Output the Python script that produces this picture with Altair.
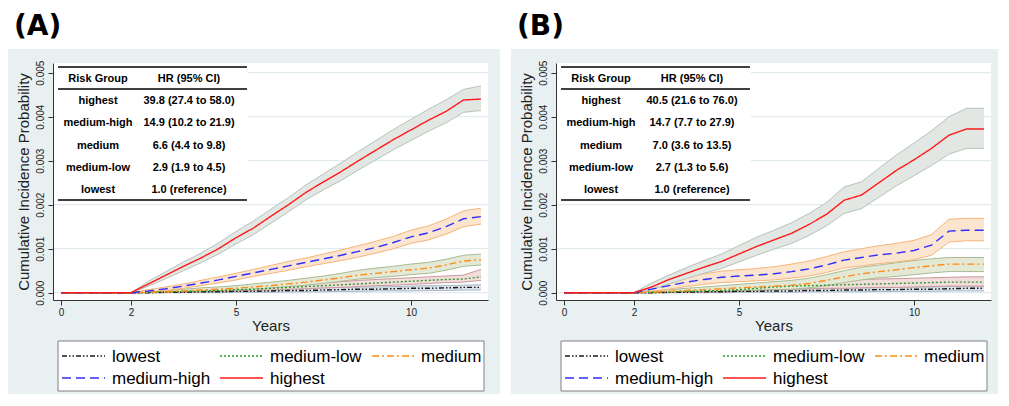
import altair as alt
import pandas as pd

# ---------------- data (values in units of 0.001) ----------------
GROUPS = ["lowest", "medium-low", "medium", "medium-high", "highest"]
TIMES = [0, 2, 2.5, 3, 3.5, 4, 4.5, 5, 5.5, 6, 6.5, 7, 7.5, 8, 8.5, 9, 9.5, 10, 10.5, 11, 11.5, 12]

A_EST = {
    "highest":     [0, 0, 0.20, 0.40, 0.60, 0.79, 1.00, 1.25, 1.47, 1.74, 2.00, 2.28, 2.52, 2.75, 3.00, 3.24, 3.48, 3.70, 3.92, 4.12, 4.38, 4.40],
    "medium-high": [0, 0, 0.04, 0.09, 0.15, 0.22, 0.29, 0.37, 0.45, 0.53, 0.61, 0.69, 0.77, 0.85, 0.94, 1.03, 1.14, 1.27, 1.36, 1.50, 1.68, 1.73],
    "medium":      [0, 0, 0.01, 0.02, 0.04, 0.06, 0.08, 0.10, 0.13, 0.16, 0.20, 0.24, 0.29, 0.34, 0.40, 0.44, 0.48, 0.52, 0.56, 0.63, 0.72, 0.75],
    "medium-low":  [0, 0, 0.01, 0.02, 0.03, 0.04, 0.05, 0.07, 0.08, 0.10, 0.12, 0.14, 0.16, 0.18, 0.20, 0.22, 0.24, 0.26, 0.28, 0.30, 0.31, 0.36],
    "lowest":      [0, 0, 0.00, 0.01, 0.01, 0.02, 0.02, 0.03, 0.03, 0.04, 0.05, 0.05, 0.06, 0.07, 0.08, 0.08, 0.09, 0.10, 0.10, 0.11, 0.12, 0.12],
}
A_HI = {
    "highest":     [0, 0, 0.26, 0.48, 0.70, 0.90, 1.13, 1.39, 1.63, 1.90, 2.16, 2.45, 2.70, 2.95, 3.21, 3.46, 3.71, 3.94, 4.17, 4.38, 4.62, 4.70],
    "medium-high": [0, 0, 0.07, 0.13, 0.20, 0.28, 0.36, 0.44, 0.53, 0.62, 0.71, 0.79, 0.88, 0.97, 1.07, 1.17, 1.28, 1.42, 1.52, 1.67, 1.86, 1.92],
    "medium":      [0, 0, 0.03, 0.05, 0.08, 0.11, 0.13, 0.16, 0.20, 0.24, 0.28, 0.33, 0.38, 0.44, 0.51, 0.56, 0.60, 0.65, 0.69, 0.76, 0.85, 0.88],
    "medium-low":  [0, 0, 0.03, 0.04, 0.06, 0.07, 0.09, 0.11, 0.13, 0.15, 0.18, 0.20, 0.23, 0.25, 0.28, 0.30, 0.32, 0.34, 0.36, 0.38, 0.40, 0.53],
    "lowest":      [0, 0, 0.02, 0.03, 0.04, 0.05, 0.05, 0.06, 0.07, 0.08, 0.09, 0.10, 0.11, 0.12, 0.13, 0.13, 0.14, 0.15, 0.16, 0.16, 0.17, 0.18],
}
A_LO = {
    "highest":     [0, 0, 0.15, 0.32, 0.50, 0.68, 0.88, 1.11, 1.32, 1.58, 1.84, 2.11, 2.34, 2.55, 2.79, 3.02, 3.25, 3.46, 3.67, 3.86, 4.10, 4.14],
    "medium-high": [0, 0, 0.02, 0.05, 0.10, 0.16, 0.22, 0.29, 0.37, 0.44, 0.51, 0.59, 0.66, 0.73, 0.81, 0.90, 1.00, 1.12, 1.20, 1.33, 1.50, 1.56],
    "medium":      [0, 0, 0.00, 0.01, 0.02, 0.03, 0.05, 0.06, 0.08, 0.11, 0.14, 0.17, 0.21, 0.26, 0.31, 0.34, 0.37, 0.41, 0.44, 0.51, 0.60, 0.63],
    "medium-low":  [0, 0, 0.00, 0.01, 0.01, 0.02, 0.03, 0.04, 0.05, 0.06, 0.08, 0.09, 0.11, 0.12, 0.14, 0.16, 0.17, 0.19, 0.21, 0.23, 0.24, 0.28],
    "lowest":      [0, 0, 0.00, 0.00, 0.00, 0.00, 0.00, 0.01, 0.01, 0.01, 0.02, 0.02, 0.02, 0.03, 0.03, 0.04, 0.04, 0.04, 0.05, 0.05, 0.06, 0.06],
}

B_EST = {
    "highest":     [0, 0, 0.13, 0.30, 0.44, 0.58, 0.71, 0.88, 1.05, 1.20, 1.35, 1.55, 1.78, 2.10, 2.22, 2.50, 2.78, 3.02, 3.28, 3.58, 3.72, 3.72],
    "medium-high": [0, 0, 0.08, 0.16, 0.24, 0.30, 0.35, 0.38, 0.40, 0.43, 0.48, 0.54, 0.63, 0.74, 0.80, 0.86, 0.90, 0.96, 1.08, 1.40, 1.42, 1.42],
    "medium":      [0, 0, 0.01, 0.03, 0.05, 0.07, 0.09, 0.11, 0.13, 0.15, 0.17, 0.21, 0.28, 0.36, 0.43, 0.48, 0.52, 0.57, 0.61, 0.65, 0.65, 0.65],
    "medium-low":  [0, 0, 0.01, 0.02, 0.03, 0.04, 0.05, 0.07, 0.10, 0.13, 0.15, 0.16, 0.17, 0.18, 0.19, 0.20, 0.21, 0.22, 0.23, 0.24, 0.24, 0.24],
    "lowest":      [0, 0, 0.00, 0.01, 0.01, 0.02, 0.02, 0.03, 0.03, 0.04, 0.04, 0.05, 0.05, 0.06, 0.06, 0.07, 0.07, 0.08, 0.08, 0.09, 0.10, 0.10],
}
B_HI = {
    "highest":     [0, 0, 0.22, 0.40, 0.57, 0.73, 0.88, 1.07, 1.26, 1.42, 1.59, 1.80, 2.05, 2.40, 2.52, 2.83, 3.13, 3.40, 3.68, 4.00, 4.19, 4.19],
    "medium-high": [0, 0, 0.16, 0.26, 0.36, 0.43, 0.49, 0.52, 0.55, 0.59, 0.65, 0.72, 0.82, 0.93, 1.00, 1.07, 1.12, 1.19, 1.32, 1.67, 1.69, 1.69],
    "medium":      [0, 0, 0.04, 0.07, 0.10, 0.13, 0.16, 0.19, 0.22, 0.25, 0.28, 0.33, 0.41, 0.50, 0.58, 0.63, 0.68, 0.73, 0.77, 0.80, 0.80, 0.80],
    "medium-low":  [0, 0, 0.04, 0.06, 0.08, 0.09, 0.11, 0.14, 0.18, 0.22, 0.25, 0.27, 0.28, 0.29, 0.30, 0.31, 0.32, 0.33, 0.34, 0.35, 0.36, 0.36],
    "lowest":      [0, 0, 0.02, 0.03, 0.04, 0.05, 0.05, 0.06, 0.07, 0.07, 0.08, 0.09, 0.09, 0.10, 0.11, 0.11, 0.12, 0.13, 0.13, 0.14, 0.15, 0.15],
}
B_LO = {
    "highest":     [0, 0, 0.07, 0.20, 0.32, 0.44, 0.55, 0.70, 0.85, 0.99, 1.12, 1.30, 1.52, 1.80, 1.91, 2.17, 2.43, 2.66, 2.89, 3.15, 3.28, 3.28],
    "medium-high": [0, 0, 0.03, 0.08, 0.14, 0.19, 0.23, 0.25, 0.27, 0.29, 0.33, 0.38, 0.46, 0.56, 0.61, 0.66, 0.70, 0.75, 0.85, 1.15, 1.18, 1.18],
    "medium":      [0, 0, 0.00, 0.01, 0.02, 0.03, 0.04, 0.05, 0.06, 0.07, 0.08, 0.11, 0.16, 0.23, 0.29, 0.34, 0.37, 0.41, 0.45, 0.48, 0.48, 0.48],
    "medium-low":  [0, 0, 0.00, 0.00, 0.01, 0.01, 0.02, 0.03, 0.05, 0.07, 0.08, 0.09, 0.10, 0.10, 0.11, 0.12, 0.12, 0.13, 0.14, 0.15, 0.15, 0.15],
    "lowest":      [0, 0, 0.00, 0.00, 0.00, 0.00, 0.00, 0.01, 0.01, 0.01, 0.01, 0.02, 0.02, 0.02, 0.02, 0.03, 0.03, 0.03, 0.03, 0.04, 0.04, 0.04],
}

TABLE_GROUPS = ["highest", "medium-high", "medium", "medium-low", "lowest"]
A_HR = ["39.8 (27.4 to 58.0)", "14.9 (10.2 to 21.9)", "6.6 (4.4 to 9.8)", "2.9 (1.9 to 4.5)", "1.0 (reference)"]
B_HR = ["40.5 (21.6 to 76.0)", "14.7 (7.7 to 27.9)", "7.0 (3.6 to 13.5)", "2.7 (1.3 to 5.6)", "1.0 (reference)"]

X_TICKS = [0, 2, 5, 10]
Y_TICKS = [0.0, 0.001, 0.002, 0.003, 0.004, 0.005]

# ---------------- styles ----------------
LINE_COLOR = {"lowest": "#1a1a1a", "medium-low": "#2a9a2a", "medium": "#ff8c1a",
              "medium-high": "#2f2fff", "highest": "#ff1a1a"}
LINE_DASH = {"lowest": [5, 2, 1.5, 2, 1.5, 2], "medium-low": [2, 2], "medium": [7, 3, 2, 3],
             "medium-high": [9, 5], "highest": [1, 0]}
BAND_FILL = {"highest": "#e3e7e3", "medium-high": "#fce5cf", "medium": "#e4e9d6",
             "medium-low": "#f2dcdc", "lowest": "#dde4ec"}
BAND_EDGE = {"highest": "#b4c4b8", "medium-high": "#f5b57a", "medium": "#a9bb92",
             "medium-low": "#c99a9a", "lowest": "#a7b6c8"}
BG = "#e9f0f2"
GRID = "#e2ebee"
FONT = "Liberation Sans"
W, H = 435, 237

xs = alt.Scale(domain=[-0.23, 12.2], nice=False, zero=False)
ys = alt.Scale(domain=[-0.000166, 0.00522], nice=False, zero=False)
xaxis = alt.Axis(values=X_TICKS, format="d", title="Years", grid=False, zindex=1,
                 labelFontSize=10, titleFontSize=15, tickSize=5, labelPadding=2,
                 titlePadding=1, domainColor="#333", tickColor="#333",
                 labelColor="#222", titleColor="#222", labelFont=FONT, titleFont=FONT,
                 titleFontWeight="normal")
yaxis = alt.Axis(values=Y_TICKS, format=".3f", title="Cumulative Incidence Probability",
                 grid=False, zindex=1, labelAngle=270, labelAlign="center",
                 labelBaseline="bottom", labelFontSize=10, titleFontSize=15, tickSize=5,
                 labelPadding=3, titlePadding=4, domainColor="#333", tickColor="#333",
                 labelColor="#222", titleColor="#222", labelFont=FONT, titleFont=FONT,
                 titleFontWeight="normal")


def X(field):
    return alt.X(field, type="quantitative", scale=xs, axis=xaxis)


def Y(field):
    return alt.Y(field, type="quantitative", scale=ys, axis=yaxis)


def panel(label, est, lo, hi, hr, right_edge):
    one = pd.DataFrame({"d": [0]})
    layers = []
    # panel background and title area
    layers.append(alt.Chart(one).mark_rect(color=BG).encode(
        x=alt.value(-45), x2=alt.value(right_edge), y=alt.value(-14), y2=alt.value(331)))
    layers.append(alt.Chart(one).mark_rect(color="white").encode(
        x=alt.value(-45), x2=alt.value(right_edge), y=alt.value(-55), y2=alt.value(-14)))
    layers.append(alt.Chart(one).mark_text(
        text=label, font="DejaVu Sans", fontWeight="bold", fontSize=28,
        align="left", baseline="alphabetic", color="black").encode(
        x=alt.value(-39), y=alt.value(-28)))
    # white plot region
    layers.append(alt.Chart(one).mark_rect(color="white").encode(
        x=alt.value(0), x2=alt.value(W), y=alt.value(0), y2=alt.value(H)))
    # gridlines
    grid = pd.DataFrame({"v": Y_TICKS})
    layers.append(alt.Chart(grid).mark_rule(color=GRID, strokeWidth=1.2).encode(
        y=Y("v"), x=alt.value(0), x2=alt.value(W)))

    frames = {}
    for g in GROUPS:
        frames[g] = pd.DataFrame({
            "t": TIMES,
            "est": [v / 1000 for v in est[g]],
            "lo": [v / 1000 for v in lo[g]],
            "hi": [v / 1000 for v in hi[g]],
        })
    # confidence bands
    for g in GROUPS:
        base = alt.Chart(frames[g])
        layers.append(base.mark_area(color=BAND_FILL[g], opacity=1).encode(
            x=X("t"), y=Y("lo"), y2="hi"))
        layers.append(base.mark_line(color=BAND_EDGE[g], strokeWidth=1).encode(
            x=X("t"), y=Y("lo")))
        layers.append(base.mark_line(color=BAND_EDGE[g], strokeWidth=1).encode(
            x=X("t"), y=Y("hi")))
    # estimate lines
    for g in GROUPS:
        layers.append(alt.Chart(frames[g]).mark_line(
            color=LINE_COLOR[g], strokeDash=LINE_DASH[g], strokeWidth=1.4).encode(
            x=X("t"), y=Y("est")))

    # HR table
    layers.append(alt.Chart(one).mark_rect(color="white").encode(
        x=alt.value(2), x2=alt.value(195), y=alt.value(1), y2=alt.value(138)))
    for ry in (4, 26, 137):
        layers.append(alt.Chart(one).mark_rule(color="black", strokeWidth=1.5).encode(
            x=alt.value(5), x2=alt.value(194), y=alt.value(ry)))
    tstyle = dict(font=FONT, fontWeight="bold", fontSize=11, color="black",
                  align="center", baseline="middle")
    layers.append(alt.Chart(one).mark_text(text="Risk Group", **tstyle).encode(
        x=alt.value(45), y=alt.value(16)))
    layers.append(alt.Chart(one).mark_text(text="HR (95% CI)", **tstyle).encode(
        x=alt.value(136), y=alt.value(16)))
    for i, (g, h) in enumerate(zip(TABLE_GROUPS, hr)):
        ry = 38 + 22.25 * i
        layers.append(alt.Chart(one).mark_text(text=g, **tstyle).encode(
            x=alt.value(45), y=alt.value(ry)))
        layers.append(alt.Chart(one).mark_text(text=h, **tstyle).encode(
            x=alt.value(136), y=alt.value(ry)))

    # legend
    layers.append(alt.Chart(one).mark_rect(color="white", stroke="#808080", strokeWidth=1).encode(
        x=alt.value(5), x2=alt.value(431), y=alt.value(278), y2=alt.value(328)))
    sym_x = [9, 167, 319]
    lab_x = [59, 217, 368]
    row_yl = [293, 315]
    for i, g in enumerate(GROUPS):
        c, r = i % 3, i // 3
        layers.append(alt.Chart(one).mark_rule(
            color=LINE_COLOR[g], strokeDash=LINE_DASH[g], strokeWidth=1.4).encode(
            x=alt.value(sym_x[c]), x2=alt.value(sym_x[c] + 43), y=alt.value(row_yl[r])))
        layers.append(alt.Chart(one).mark_text(
            text=g, font=FONT, fontSize=17, color="black", align="left",
            baseline="middle").encode(x=alt.value(lab_x[c]), y=alt.value(row_yl[r] + 1)))

    return alt.layer(*layers).properties(width=W, height=H)


pa = panel("(A)", A_EST, A_LO, A_HI, A_HR, 447)
pb = panel("(B)", B_EST, B_LO, B_HI, B_HR, 442)

chart = alt.hconcat(pa, pb, spacing=11).properties(
    padding=0, background="white"
).configure_view(stroke=None)

chart.save("out.html", embed_options={"renderer": "svg", "actions": False})
